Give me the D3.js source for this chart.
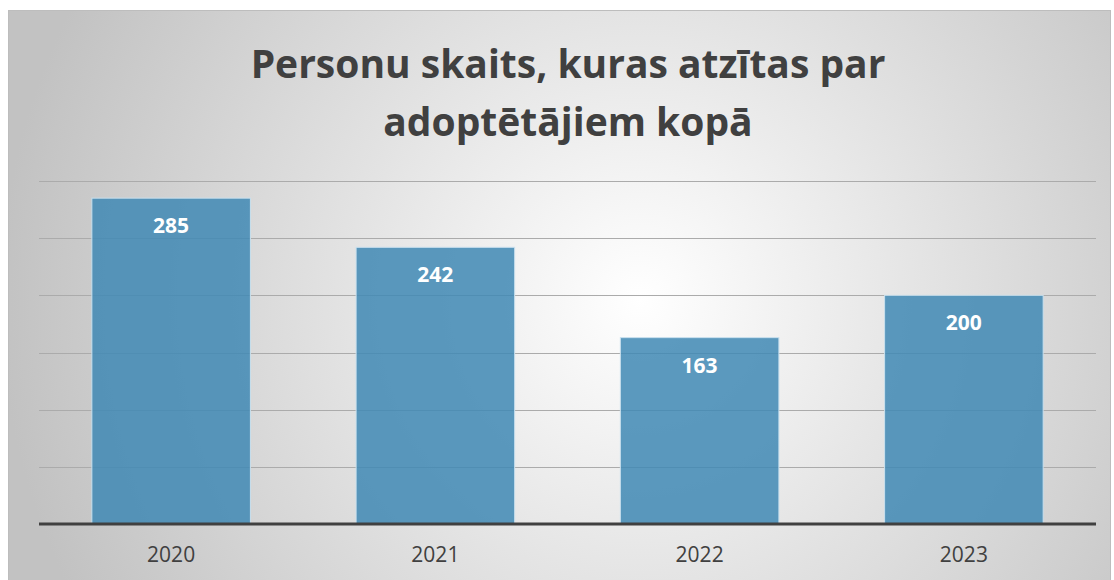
<!DOCTYPE html>
<html>
<head>
<meta charset="utf-8">
<script src="https://cdn.jsdelivr.net/npm/d3@7"></script>
<style>
  body { margin: 0; background: #fff; }
</style>
</head>
<body>
<div id="chart"></div>
<script>
var years = ["2020", "2021", "2022", "2023"];
var persons = [285, 242, 163, 200];
var gridTicks = [50, 100, 150, 200, 250, 300];
var titleLines = ["Personu skaits, kuras atzītas par", "adoptētājiem kopā"];

var w = 1114, h = 580;
var font = "'Open Sans', 'Noto Sans', sans-serif";

var svg = d3.select("#chart")
  .append("svg")
  .attr("width", w)
  .attr("height", h);

// soft radial background like the office chart style
var grad = svg.append("defs")
  .append("radialGradient")
  .attr("id", "bg")
  .attr("gradientUnits", "userSpaceOnUse")
  .attr("cx", 640).attr("cy", 300).attr("r", 640);
grad.append("stop").attr("offset", "0%").attr("stop-color", "#ffffff");
grad.append("stop").attr("offset", "100%").attr("stop-color", "#c2c2c2");

svg.append("rect")
  .attr("x", 8.5).attr("y", 10.5)
  .attr("width", 1102).attr("height", 580)
  .attr("fill", "url(#bg)")
  .attr("stroke", "#bdbdbd")
  .attr("stroke-width", 1);

var xScale = d3.scaleBand()
  .domain(years)
  .range([39, 1096])
  .paddingInner(0.4)
  .paddingOuter(0.2);

var yScale = d3.scaleLinear()
  .domain([0, 300])
  .range([524, 181]);

// gridlines
svg.selectAll("line.grid")
  .data(gridTicks)
  .enter()
  .append("line")
  .attr("class", "grid")
  .attr("x1", 39).attr("x2", 1096)
  .attr("y1", function(d) { return Math.round(yScale(d)) + 0.5; })
  .attr("y2", function(d) { return Math.round(yScale(d)) + 0.5; })
  .attr("stroke", "#ababab")
  .attr("stroke-width", 1);

svg.selectAll("rect.bar")
  .data(persons)
  .enter()
  .append("rect")
  .attr("class", "bar")
  .attr("x", function(d, i) { return xScale(years[i]); })
  .attr("y", function(d) { return yScale(d); })
  .attr("width", xScale.bandwidth())
  .attr("height", function(d) { return yScale(0) - yScale(d); })
  .attr("fill", "#3f88b4")
  .attr("fill-opacity", 0.85)
  .attr("stroke", "#c9e0ee")
  .attr("stroke-width", 1);

svg.selectAll("text.val")
  .data(persons)
  .enter()
  .append("text")
  .attr("class", "val")
  .attr("x", function(d, i) { return xScale(years[i]) + xScale.bandwidth() / 2; })
  .attr("y", function(d) { return yScale(d) + 35; })
  .attr("text-anchor", "middle")
  .attr("font-family", font)
  .attr("font-size", "21px")
  .attr("font-weight", "bold")
  .attr("fill", "#ffffff")
  .text(function(d) { return d; });

// baseline
svg.append("line")
  .attr("x1", 39).attr("x2", 1096)
  .attr("y1", yScale(0)).attr("y2", yScale(0))
  .attr("stroke", "#404040")
  .attr("stroke-width", 3);

var xAxis = svg.append("g")
  .attr("transform", "translate(0," + (yScale(0) + 2) + ")")
  .call(d3.axisBottom(xScale).tickSize(0).tickPadding(21));
xAxis.select(".domain").remove();
xAxis.selectAll("text")
  .attr("font-family", font)
  .attr("font-size", "21px")
  .attr("fill", "#404040");

svg.selectAll("text.title")
  .data(titleLines)
  .enter()
  .append("text")
  .attr("class", "title")
  .attr("x", 568)
  .attr("y", function(d, i) { return 78 + i * 58; })
  .attr("text-anchor", "middle")
  .attr("font-family", font)
  .attr("font-size", "39px")
  .attr("font-weight", "bold")
  .attr("fill", "#404040")
  .text(function(d) { return d; });
</script>
</body>
</html>
